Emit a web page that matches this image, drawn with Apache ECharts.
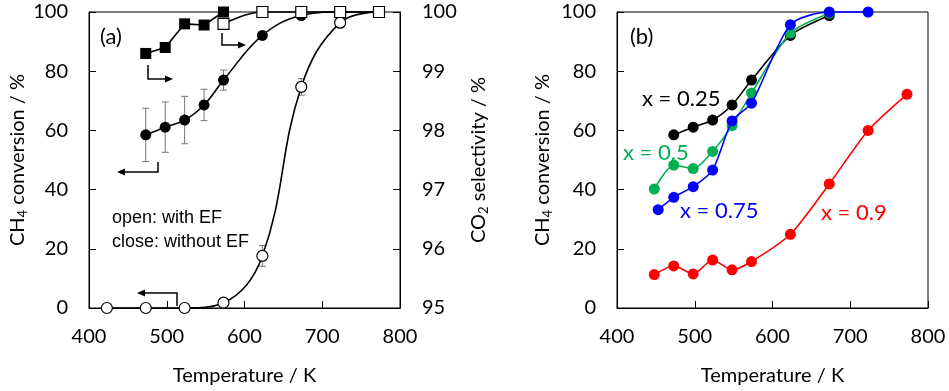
<!DOCTYPE html>
<html>
<head>
<meta charset="utf-8">
<script src="https://cdn.jsdelivr.net/npm/echarts@6/dist/echarts.min.js"></script>
<style>html,body{margin:0;padding:0;background:#fff;}#c{width:949px;height:391px;}</style>
</head>
<body>
<div id="c"></div>
<script>
// ---------- Panel (a) data ----------
const tempClosedA = [473, 498, 523, 548, 573, 623, 673, 723, 773];
const convClosedA = [58.5, 61.1, 63.5, 68.6, 77.0, 92.1, 98.8, 100, 100];
const errClosedA  = [9.0, 8.5, 8.0, 5.3, 3.4, 0, 0, 0, 0];

const tempOpenA = [423, 473, 523, 573, 623, 673, 723, 773];
const convOpenA = [0, 0, 0, 1.8, 17.6, 74.7, 96.4, 100];
const errOpenA  = [0, 0, 0, 0, 3.5, 2.8, 1.8, 0];

const tempSelClosed = [473, 498, 523, 548, 573];
const selClosed     = [99.30, 99.40, 99.80, 99.78, 100];
const tempSelOpen   = [573, 623, 673, 723, 773];
const selOpen       = [99.80, 100, 100, 100, 100];

// ---------- Panel (b) data ----------
const tempB    = [448, 473, 498, 523, 548, 573, 623, 673, 723, 773];
const tempB075 = [453, 473, 498, 523, 548, 573, 623, 673, 723];
const convX025 = [null, 58.5, 61.1, 63.5, 68.6, 77.0, 92.1, 98.8];
const convX05  = [40.2, 48.3, 47.1, 52.9, 61.6, 72.6, 92.9, 99.6];
const convX075 = [33.2, 37.4, 41.0, 46.6, 63.2, 69.2, 95.7, 100, 100];
const convX09  = [11.3, 14.2, 11.5, 16.2, 12.9, 15.7, 24.9, 41.9, 60.0, 72.2];

// axis ticks
const xMin = 400, xMax = 800, xStep = 100;
const yMin = 0, yMax = 100, yStep = 20;
const selMin = 95, selMax = 100, selStep = 1;

function pairs(xs, ys) {
  const out = [];
  for (let i = 0; i < ys.length; i++) if (ys[i] !== null && ys[i] !== undefined) out.push([xs[i], ys[i]]);
  return out;
}
function errData(xs, ys, es) {
  const out = [];
  for (let i = 0; i < ys.length; i++) if (es[i] > 0) out.push([xs[i], ys[i] - es[i], ys[i] + es[i]]);
  return out;
}

const FONT = 'Lato, "Open Sans", sans-serif';
const black = '#000';
const lbl = {color: black, fontSize: 20, fontFamily: FONT};

function xAxisFor(gi) {
  return {
    gridIndex: gi, type: 'value', min: xMin, max: xMax, interval: xStep,
    axisLine: {lineStyle: {color: black, width: 1}},
    axisTick: {inside: true, length: 7, lineStyle: {color: black}},
    axisLabel: Object.assign({margin: 19}, lbl),
    splitLine: {show: false},
    name: 'Temperature / K', nameLocation: 'middle', nameGap: 58,
    nameTextStyle: {color: black, fontSize: 20, fontFamily: FONT}
  };
}
const rich = {
  n: {fontSize: 20, fontFamily: FONT, color: black},
  s: {fontSize: 13, fontFamily: FONT, color: black, verticalAlign: 'bottom', padding: [9, 0, 0, 0]}
};
function yAxisConv(gi, gap) {
  return {
    gridIndex: gi, type: 'value', min: yMin, max: yMax, interval: yStep,
    axisLine: {show: true, lineStyle: {color: black, width: 1}},
    axisTick: {show: true, inside: true, length: 7, lineStyle: {color: black}},
    axisLabel: Object.assign({margin: 21}, lbl),
    splitLine: {show: false},
    name: '{n|CH}{s|4}{n| conversion / %}', nameLocation: 'middle', nameGap: gap, nameRotate: 90,
    nameTextStyle: {rich: rich}
  };
}

function errSeries(data) {
  return {
    type: 'custom', xAxisIndex: 0, yAxisIndex: 0, z: 1,
    renderItem: function (params, api) {
      const x = api.value(0), lo = api.value(1), hi = api.value(2);
      const p1 = api.coord([x, hi]), p2 = api.coord([x, lo]);
      const st = {stroke: '#777', lineWidth: 1};
      return {type: 'group', children: [
        {type: 'line', shape: {x1: p1[0], y1: p1[1], x2: p2[0], y2: p2[1]}, style: st},
        {type: 'line', shape: {x1: p1[0] - 3.5, y1: p1[1], x2: p1[0] + 3.5, y2: p1[1]}, style: st},
        {type: 'line', shape: {x1: p2[0] - 3.5, y1: p2[1], x2: p2[0] + 3.5, y2: p2[1]}, style: st}
      ]};
    },
    encode: {x: 0, y: [1, 2]},
    data: data
  };
}

function arrow(points, dir) {
  const last = points[points.length - 1];
  const tip = dir === 'right' ? [last[0] + 8, last[1]] : [last[0] - 8, last[1]];
  return [
    {type: 'polyline', shape: {points: points}, style: {stroke: black, lineWidth: 1.5, fill: null}, z: 10},
    {type: 'polygon', shape: {points: [tip, [last[0], last[1] - 3.5], [last[0], last[1] + 3.5]]}, style: {fill: black}, z: 10}
  ];
}
function txt(x, y, text, size, color, family) {
  return {type: 'text', x: x, y: y, z: 10,
    style: {text: text, fontSize: size, fontFamily: family || FONT, fill: color, align: 'left', verticalAlign: 'middle'}};
}

const graphics = [].concat(
  arrow([[148, 65], [148, 79], [165, 79]], 'right'),
  arrow([[222, 33], [222, 45], [238, 45]], 'right'),
  arrow([[158, 162], [158, 172], [125, 172]], 'left'),
  arrow([[177, 306], [177, 293], [145, 293]], 'left'),
  [
    txt(100, 37, '(a)', 22, black),
    txt(630, 37, '(b)', 22, black),
    txt(112, 218, 'open: with EF', 18, black, '"Liberation Sans", Arial, sans-serif'),
    txt(112, 242, 'close: without EF', 18, black, '"Liberation Sans", Arial, sans-serif'),
    txt(642, 99, 'x = 0.25', 22, '#000000'),
    txt(623, 153, 'x = 0.5', 22, '#00B050'),
    txt(680, 211, 'x = 0.75', 22, '#0000FF'),
    txt(821, 213, 'x = 0.9', 22, '#FF0000')
  ]
);

function lineB(data, color, z) {
  return {
    type: 'line', xAxisIndex: 1, yAxisIndex: 2, data: data, smooth: 0.25, clip: false, z: z,
    symbol: 'circle', symbolSize: 11,
    lineStyle: {color: color, width: 1.6},
    itemStyle: {color: color, borderWidth: 0}
  };
}

const option = {
  animation: false,
  backgroundColor: '#fff',
  grid: [
    {left: 89, top: 12, width: 311, height: 299, show: true, borderColor: black, borderWidth: 1, containLabel: false},
    {left: 617, top: 12, width: 311, height: 299, show: true, borderColor: black, borderWidth: 1, containLabel: false}
  ],
  xAxis: [xAxisFor(0), xAxisFor(1)],
  yAxis: [
    yAxisConv(0, 60),
    {
      gridIndex: 0, type: 'value', position: 'right', min: selMin, max: selMax, interval: selStep,
      axisLine: {show: true, lineStyle: {color: black, width: 1}},
      axisTick: {show: true, inside: true, length: 7, lineStyle: {color: black}},
      axisLabel: Object.assign({margin: 22}, lbl),
      splitLine: {show: false},
      name: '{n|CO}{s|2}{n| selectivity / %}', nameLocation: 'middle', nameGap: 68, nameRotate: 90,
      nameTextStyle: {rich: rich}
    },
    yAxisConv(1, 63)
  ],
  graphic: graphics,
  series: [
    errSeries(errData(tempClosedA, convClosedA, errClosedA)),
    errSeries(errData(tempOpenA, convOpenA, errOpenA)),
    {
      type: 'line', xAxisIndex: 0, yAxisIndex: 0, data: pairs(tempClosedA, convClosedA), smooth: 0.4, clip: false, z: 3,
      symbol: 'circle', symbolSize: 11,
      lineStyle: {color: black, width: 1.6}, itemStyle: {color: black, borderWidth: 0}
    },
    {
      type: 'line', xAxisIndex: 0, yAxisIndex: 0, data: pairs(tempOpenA, convOpenA), smooth: 0.4, clip: false, z: 3,
      symbol: 'circle', symbolSize: 11,
      lineStyle: {color: black, width: 1.6}, itemStyle: {color: '#fff', borderColor: black, borderWidth: 1.2}
    },
    {
      type: 'line', xAxisIndex: 0, yAxisIndex: 1, data: pairs(tempSelClosed, selClosed), smooth: false, clip: false, z: 4,
      symbol: 'rect', symbolSize: 11,
      lineStyle: {color: black, width: 1.6}, itemStyle: {color: black, borderWidth: 0}
    },
    {
      type: 'line', xAxisIndex: 0, yAxisIndex: 1, data: pairs(tempSelOpen, selOpen), smooth: 0.4, clip: false, z: 5,
      symbol: 'rect', symbolSize: 11,
      lineStyle: {color: black, width: 1.6}, itemStyle: {color: '#fff', borderColor: black, borderWidth: 1.2}
    },
    lineB(pairs(tempB, convX025), '#000000', 3),
    lineB(pairs(tempB, convX05), '#00B050', 4),
    lineB(pairs(tempB075, convX075), '#0000FF', 5),
    lineB(pairs(tempB, convX09), '#FF0000', 3)
  ]
};

const chart = echarts.init(document.getElementById('c'), null, {renderer: 'canvas'});
chart.setOption(option);
</script>
</body>
</html>
